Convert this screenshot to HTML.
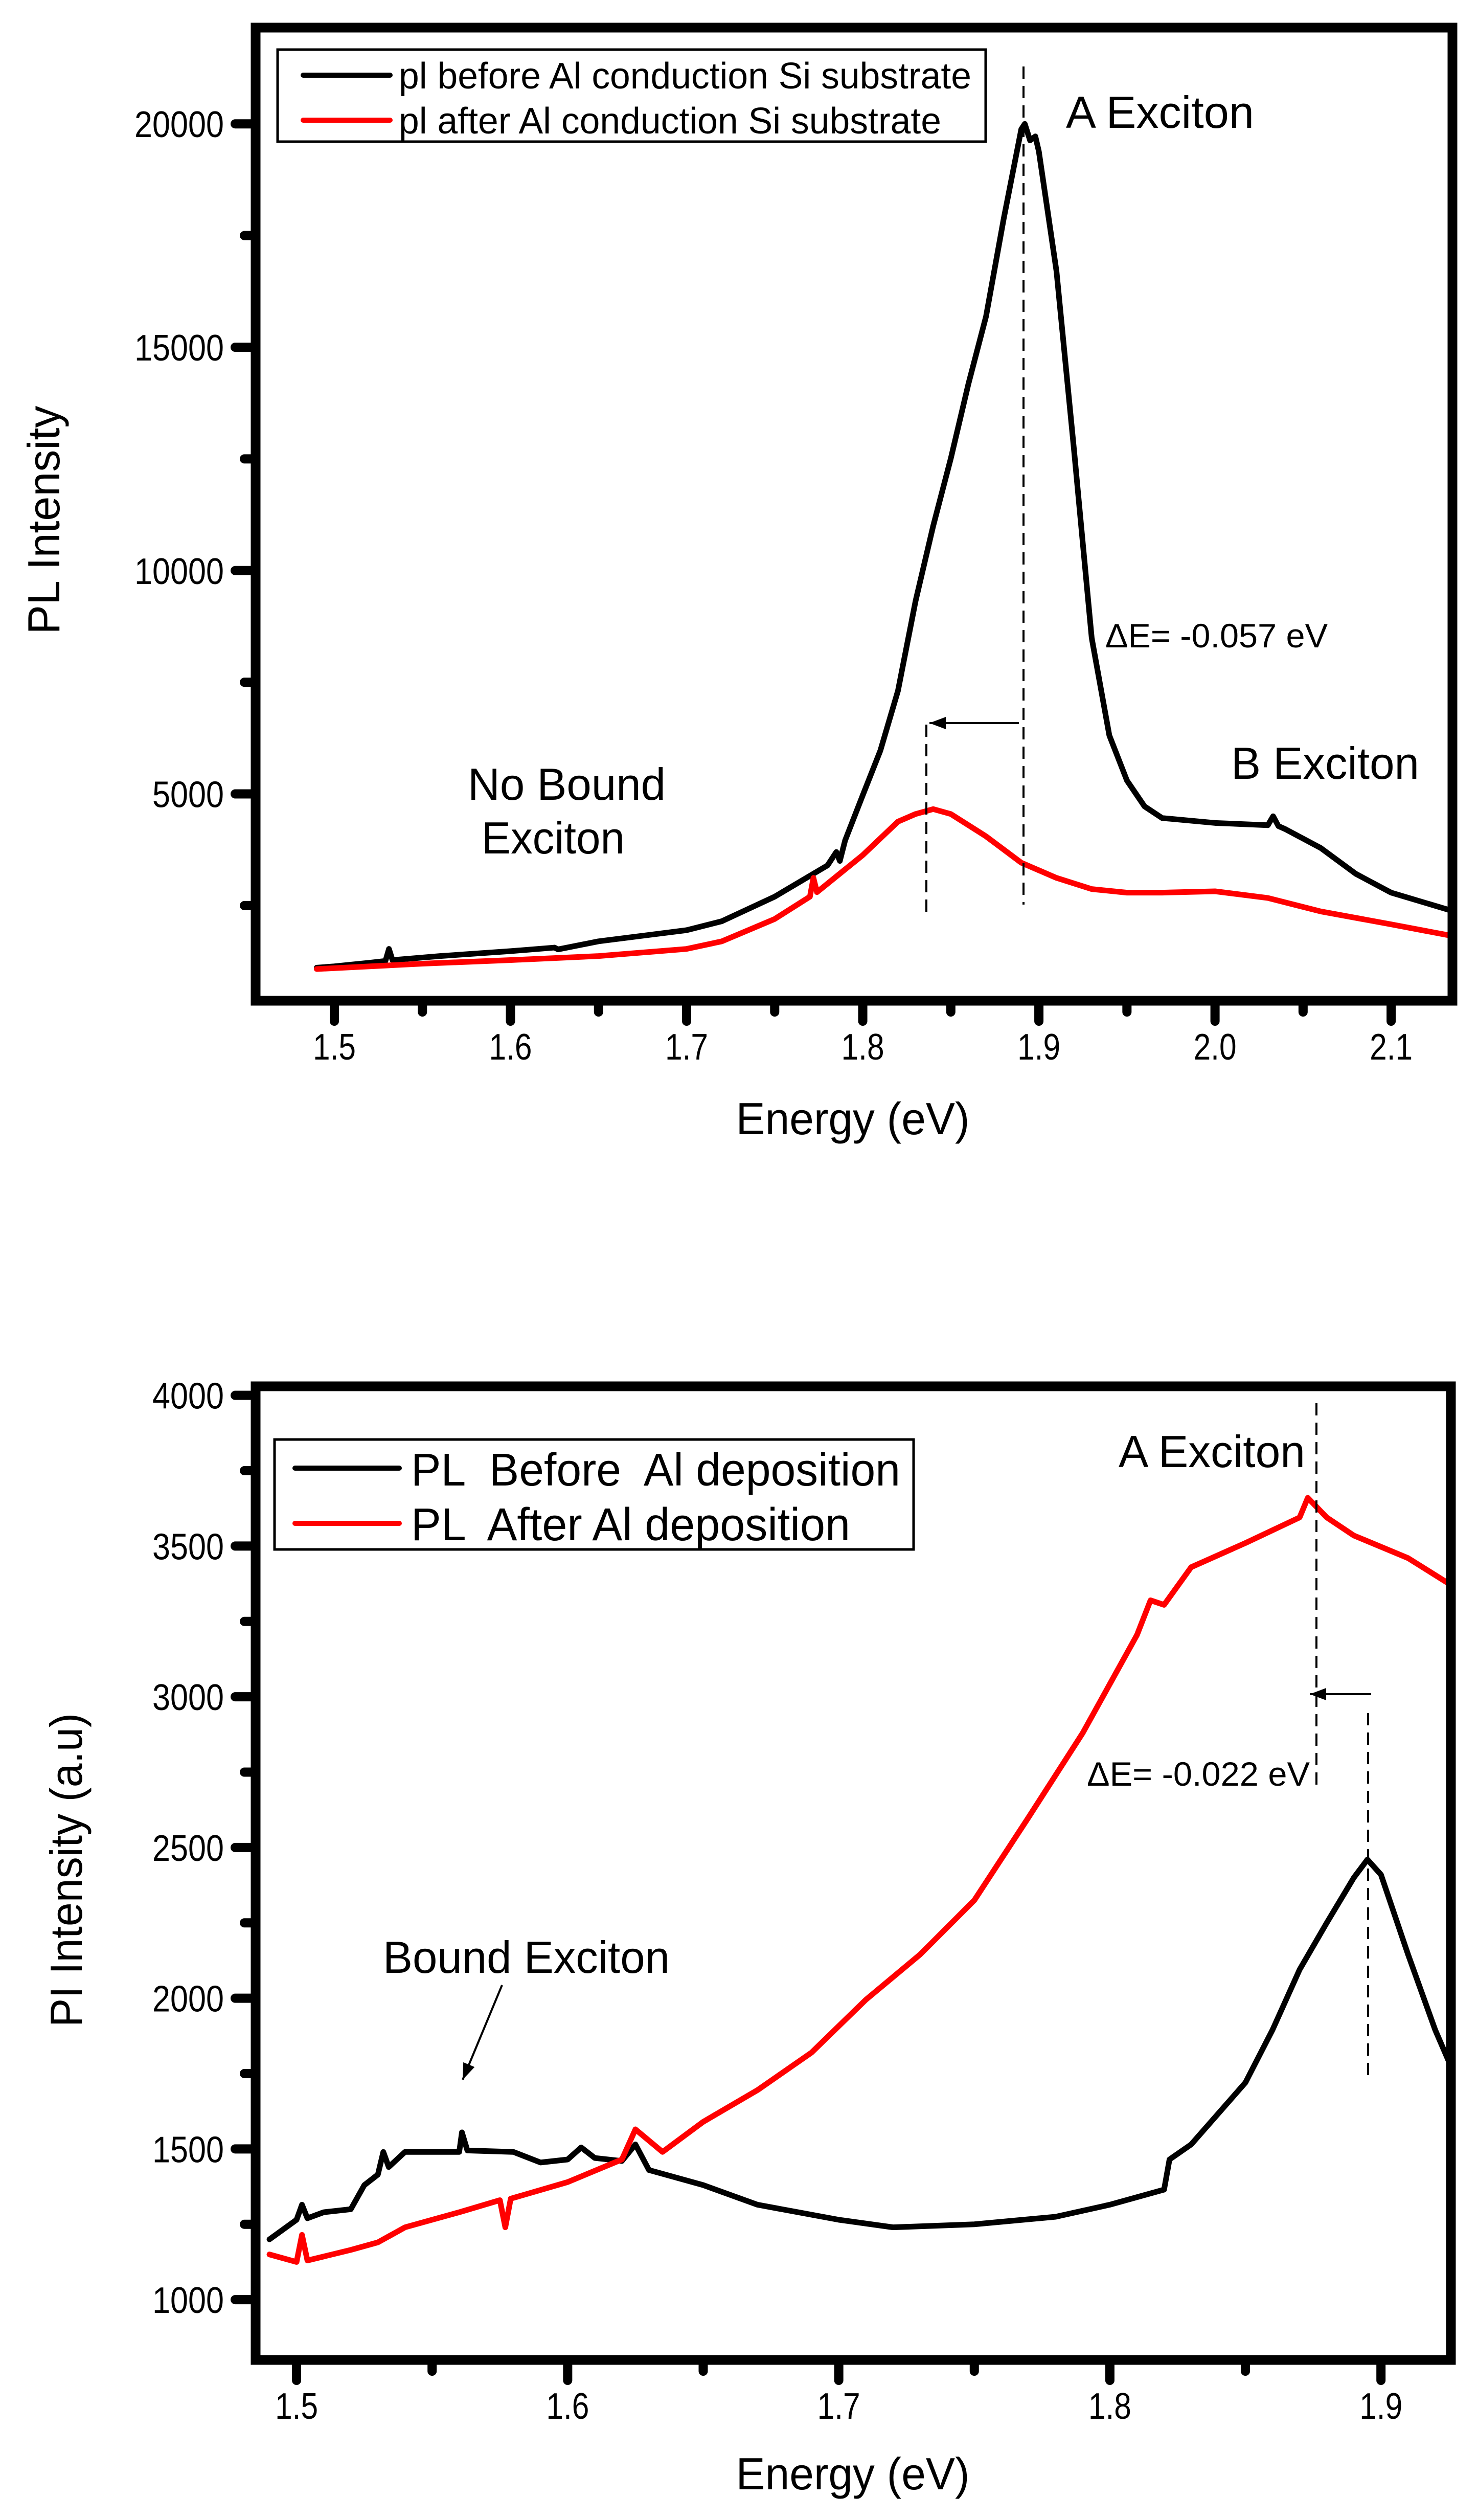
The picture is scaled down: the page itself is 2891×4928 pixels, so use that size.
<!DOCTYPE html>
<html><head><meta charset="utf-8"><style>
html,body{margin:0;padding:0;background:#fff}
svg{display:block}
text{font-family:"Liberation Sans",sans-serif;fill:#000}
</style></head><body>
<svg id="svg" width="2891" height="4928" viewBox="0 0 2891 4928" xmlns="http://www.w3.org/2000/svg"></svg>
<script>
// ---------- Chart 1 data ----------
const c1BeforeX=[1.49,1.50,1.52,1.529,1.531,1.533,1.56,1.6,1.625,1.627,1.65,1.7,1.72,1.75,1.78,1.785,1.787,1.79,1.8,1.81,1.82,1.83,1.84,1.85,1.86,1.87,1.88,1.89,1.892,1.895,1.898,1.9,1.91,1.92,1.93,1.94,1.95,1.96,1.97,2.0,2.03,2.033,2.036,2.04,2.06,2.08,2.1,2.1348];
const c1BeforeY=[1110,1140,1220,1260,1530,1280,1370,1480,1560,1520,1700,1950,2150,2700,3400,3700,3500,3960,4970,5970,7310,9320,11000,12510,14180,15690,17870,19880,20000,19630,19720,19380,16700,12680,8490,6310,5300,4720,4460,4350,4300,4500,4280,4210,3790,3210,2790,2380];
const c1AfterX=[1.49,1.55,1.6,1.65,1.7,1.72,1.75,1.77,1.772,1.774,1.8,1.82,1.83,1.84,1.85,1.87,1.89,1.91,1.93,1.95,1.97,2.0,2.03,2.06,2.1,2.1348];
const c1AfterY=[1080,1200,1280,1370,1530,1700,2200,2700,3120,2800,3630,4380,4550,4660,4550,4050,3460,3120,2870,2790,2790,2820,2670,2370,2080,1820];
const c1XTicks=[1.5,1.6,1.7,1.8,1.9,2.0,2.1];
const c1XTickLabels=["1.5","1.6","1.7","1.8","1.9","2.0","2.1"];
const c1YTicks=[5000,10000,15000,20000];
const c1YTickLabels=["5000","10000","15000","20000"];
// ---------- Chart 2 data ----------
const c2BeforeX=[1.49,1.5,1.502,1.504,1.51,1.52,1.525,1.53,1.532,1.534,1.54,1.56,1.561,1.563,1.58,1.59,1.6,1.605,1.61,1.62,1.625,1.63,1.65,1.67,1.7,1.72,1.75,1.78,1.8,1.82,1.822,1.83,1.85,1.86,1.87,1.88,1.89,1.895,1.9,1.91,1.92,1.926];
const c2BeforeY=[1200,1265,1315,1270,1290,1300,1380,1415,1490,1440,1490,1490,1555,1495,1490,1455,1465,1505,1470,1460,1515,1430,1380,1315,1265,1240,1250,1275,1315,1365,1465,1515,1720,1895,2095,2250,2400,2460,2410,2145,1895,1770];
const c2AfterX=[1.49,1.5,1.502,1.504,1.52,1.53,1.54,1.56,1.575,1.577,1.579,1.6,1.62,1.625,1.635,1.65,1.67,1.69,1.71,1.73,1.75,1.77,1.79,1.81,1.815,1.82,1.83,1.85,1.87,1.873,1.88,1.89,1.91,1.926];
const c2AfterY=[1150,1125,1215,1130,1165,1190,1240,1290,1330,1240,1335,1390,1465,1565,1490,1590,1695,1820,1995,2145,2325,2600,2880,3205,3320,3305,3430,3510,3595,3660,3595,3535,3460,3370];
const c2XTicks=[1.5,1.6,1.7,1.8,1.9];
const c2XTickLabels=["1.5","1.6","1.7","1.8","1.9"];
const c2YTicks=[1000,1500,2000,2500,3000,3500,4000];
const c2YTickLabels=["1000","1500","2000","2500","3000","3500","4000"];

const NS="http://www.w3.org/2000/svg";
const svg=document.getElementById('svg');
function mk(tag,attrs,parent){const e=document.createElementNS(NS,tag);for(const k in attrs)e.setAttribute(k,attrs[k]);(parent||svg).appendChild(e);return e;}
function txt(str,x,y,size,anchor,len,parent){const t=mk('text',{x:x,y:y,'font-size':size,'text-anchor':anchor||'start'},parent);if(len){t.setAttribute('textLength',len);t.setAttribute('lengthAdjust','spacingAndGlyphs');}t.textContent=str;return t;}

function chart(cfg){
  const g=mk('g',{});
  
  
  const sx=v=>cfg.L+(v-cfg.x0)/(cfg.x1-cfg.x0)*(cfg.R-cfg.L);
  const sy=v=>cfg.B-(v-cfg.y0)/(cfg.y1-cfg.y0)*(cfg.B-cfg.T);
  const tg=mk('g',{},g);
  
  
  cfg.xt.forEach((v,i)=>{
    mk('line',{x1:sx(v),y1:cfg.B,x2:sx(v),y2:cfg.B+40,stroke:'#000','stroke-width':18,'stroke-linecap':'round'},tg);
    const t=txt(cfg.xl[i],sx(v),cfg.B+115,72,'middle',cfg.xl[i].length*28,tg);
    
    
    const m=v+cfg.xm; if(m<cfg.x1) mk('line',{x1:sx(m),y1:cfg.B,x2:sx(m),y2:cfg.B+22,stroke:'#000','stroke-width':18,'stroke-linecap':'round'},tg);
  });
  const m0=cfg.xt[0]-cfg.xm; if(m0>cfg.x0) mk('line',{x1:sx(m0),y1:cfg.B,x2:sx(m0),y2:cfg.B+22,stroke:'#000','stroke-width':18,'stroke-linecap':'round'},tg);
  cfg.yt.forEach((v,i)=>{
    mk('line',{x1:cfg.L,y1:sy(v),x2:cfg.L-40,y2:sy(v),stroke:'#000','stroke-width':18,'stroke-linecap':'round'},tg);
    const t=txt(cfg.yl[i],cfg.L-62,sy(v)+26,72,'end',cfg.yl[i].length*35,tg);
    
    
  });
  for(let v=cfg.yt[0]-cfg.ym; v<cfg.y1; v+=2*cfg.ym){ if(v>cfg.y0 && cfg.yt.indexOf(v)<0) mk('line',{x1:cfg.L,y1:sy(v),x2:cfg.L-22,y2:sy(v),stroke:'#000','stroke-width':18,'stroke-linecap':'round'},tg);}
  cfg.series.forEach(s=>{
    const p=mk('polyline',{points:s.x.map((v,i)=>sx(v)+','+sy(s.y[i])).join(' '),fill:'none',stroke:s.c,'stroke-width':11,'stroke-linejoin':'round','stroke-linecap':'round'},g);
    
    
  });
  const f=mk('rect',{x:cfg.L,y:cfg.T,width:cfg.R-cfg.L,height:cfg.B-cfg.T,fill:'none',stroke:'#000','stroke-width':19},g);
  
  
  return g;
}

chart({name:'chart-top',L:500,R:2841,T:54,B:1957,x0:1.4553,x1:2.1348,y0:370,y1:22155,
  xt:c1XTicks,xl:c1XTickLabels,xm:0.05,yt:c1YTicks,yl:c1YTickLabels,ym:2500,
  series:[{x:c1BeforeX,y:c1BeforeY,c:'#000',n:'series-before'},{x:c1AfterX,y:c1AfterY,c:'#f00',n:'series-after'}]});
chart({name:'chart-bottom',L:500,R:2838,T:2711,B:4615,x0:1.4849,x1:1.9258,y0:800,y1:4030,
  xt:c2XTicks,xl:c2XTickLabels,xm:0.05,yt:c2YTicks,yl:c2YTickLabels,ym:250,
  series:[{x:c2BeforeX,y:c2BeforeY,c:'#000',n:'series-before'},{x:c2AfterX,y:c2AfterY,c:'#f00',n:'series-after'}]});
</script>
<svg style="position:absolute;left:0;top:0" width="2891" height="4928" xmlns="http://www.w3.org/2000/svg">
  <defs><marker id="ah" markerWidth="8" markerHeight="6" refX="8" refY="3" orient="auto"><path d="M0,0 L8,3 L0,6 Z" fill="#000"/></marker></defs>
  <g>
    <rect x="543" y="97" width="1385" height="180" fill="#fff" stroke="#000" stroke-width="5"/>
    <line x1="593" y1="147" x2="763" y2="147" stroke="#000" stroke-width="10" stroke-linecap="round"/>
    <line x1="593" y1="235" x2="763" y2="235" stroke="#f00" stroke-width="10" stroke-linecap="round"/>
    <text x="780" y="173" font-size="72" textLength="1120" lengthAdjust="spacingAndGlyphs">pl before Al conduction Si substrate</text>
    <text x="780" y="261" font-size="72" textLength="1061" lengthAdjust="spacingAndGlyphs">pl after Al conduction Si substrate</text>
  </g>
  <line x1="2002" y1="130" x2="2002" y2="1769" stroke="#000" stroke-width="4" stroke-dasharray="24,14"/>
  <line x1="1812" y1="1417" x2="1812" y2="1794" stroke="#000" stroke-width="4" stroke-dasharray="24,14"/>
  <line x1="1993" y1="1414" x2="1818" y2="1414" stroke="#000" stroke-width="4" marker-end="url(#ah)"/>
  <text x="2085" y="250" font-size="88" textLength="368" lengthAdjust="spacingAndGlyphs">A Exciton</text>
  <text x="2162" y="1266" font-size="66" textLength="435" lengthAdjust="spacingAndGlyphs">ΔE= -0.057 eV</text>
  <text x="2408" y="1523" font-size="88" textLength="368" lengthAdjust="spacingAndGlyphs">B Exciton</text>
  <text x="915" y="1564" font-size="88" textLength="387" lengthAdjust="spacingAndGlyphs">No Bound</text>
  <text x="942" y="1669" font-size="88" textLength="280" lengthAdjust="spacingAndGlyphs">Exciton</text>
  <text transform="translate(116,1017) rotate(-90)" text-anchor="middle" font-size="88" textLength="447" lengthAdjust="spacingAndGlyphs">PL Intensity</text>
  <text x="1668" y="2218" text-anchor="middle" font-size="88" textLength="457" lengthAdjust="spacingAndGlyphs">Energy (eV)</text>
  <g>
    <rect x="537" y="2815" width="1250" height="215" fill="#fff" stroke="#000" stroke-width="5"/>
    <line x1="577" y1="2871" x2="781" y2="2871" stroke="#000" stroke-width="10" stroke-linecap="round"/>
    <line x1="577" y1="2979" x2="781" y2="2979" stroke="#f00" stroke-width="10" stroke-linecap="round"/>
    <text x="804" y="2905" font-size="90" textLength="957" lengthAdjust="spacingAndGlyphs" xml:space="preserve">PL  Before  Al deposition</text>
    <text x="804" y="3012" font-size="90" textLength="859" lengthAdjust="spacingAndGlyphs" xml:space="preserve">PL  After Al deposition</text>
  </g>
  <line x1="2575" y1="2744" x2="2575" y2="3498" stroke="#000" stroke-width="4" stroke-dasharray="24,14"/>
  <line x1="2676" y1="3350" x2="2676" y2="4067" stroke="#000" stroke-width="4" stroke-dasharray="24,14"/>
  <line x1="2682" y1="3313" x2="2562" y2="3313" stroke="#000" stroke-width="4" marker-end="url(#ah)"/>
  <text x="2188" y="2869" font-size="88" textLength="365" lengthAdjust="spacingAndGlyphs">A Exciton</text>
  <text x="2126" y="3492" font-size="66" textLength="436" lengthAdjust="spacingAndGlyphs">ΔE= -0.022 eV</text>
  <text x="749" y="3858" font-size="88" textLength="561" lengthAdjust="spacingAndGlyphs">Bound Exciton</text>
  <line x1="982" y1="3882" x2="905" y2="4067" stroke="#000" stroke-width="4" marker-end="url(#ah)"/>
  <text transform="translate(160,3657) rotate(-90)" text-anchor="middle" font-size="88" textLength="614" lengthAdjust="spacingAndGlyphs">PI Intensity (a.u)</text>
  <text x="1668" y="4868" text-anchor="middle" font-size="88" textLength="457" lengthAdjust="spacingAndGlyphs">Energy (eV)</text>
</svg>
</body></html>
